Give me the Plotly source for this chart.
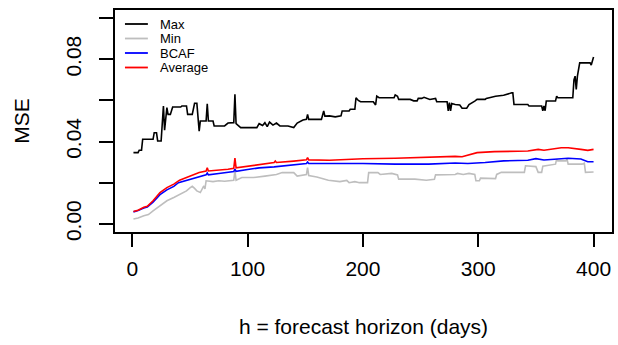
import plotly.graph_objects as go

# ---- data (day, MSE) ----
max_days = [1, 5, 6, 8, 9, 18, 19, 21, 22, 25, 27, 28, 30, 31, 33, 34, 35, 42, 43, 47, 48, 52, 54, 56, 58, 59, 64, 65, 66, 70, 71, 80, 83, 88, 89, 90, 94, 108, 110, 113, 115, 117, 119, 122, 125, 128, 135, 140, 143, 148, 151, 152, 153, 164, 166, 167, 171, 176, 181, 182, 188, 189, 193, 194, 196, 198, 209, 211, 212, 214, 227, 228, 230, 231, 241, 244, 247, 248, 251, 253, 258, 263, 264, 273, 274, 275, 276, 277, 280, 284, 286, 290, 292, 297, 299, 306, 307, 315, 322, 329, 330, 331, 343, 344, 355, 356, 357, 358, 359, 367, 368, 369, 382, 383, 384, 385, 386, 388, 397, 398, 400]
max_vals = [0.0346, 0.0346, 0.0358, 0.0358, 0.0411, 0.0411, 0.0443, 0.0443, 0.0403, 0.0403, 0.0573, 0.0455, 0.0565, 0.0532, 0.0532, 0.0549, 0.0568, 0.0568, 0.0573, 0.0573, 0.0532, 0.0532, 0.0586, 0.0586, 0.0451, 0.0500, 0.0500, 0.0584, 0.0500, 0.0500, 0.0476, 0.0476, 0.0490, 0.0492, 0.0630, 0.0487, 0.0468, 0.0468, 0.0487, 0.0478, 0.0492, 0.0473, 0.0495, 0.0480, 0.0490, 0.0476, 0.0476, 0.0468, 0.0490, 0.0505, 0.0508, 0.0532, 0.0508, 0.0508, 0.0549, 0.0524, 0.0525, 0.0520, 0.0525, 0.0549, 0.0549, 0.0557, 0.0557, 0.0613, 0.0600, 0.0594, 0.0594, 0.0578, 0.0621, 0.0613, 0.0613, 0.0627, 0.0620, 0.0605, 0.0605, 0.0598, 0.0598, 0.0610, 0.0610, 0.0615, 0.0605, 0.0610, 0.0594, 0.0594, 0.0549, 0.0590, 0.0549, 0.0585, 0.0580, 0.0578, 0.0562, 0.0562, 0.0580, 0.0597, 0.0605, 0.0605, 0.0610, 0.0620, 0.0625, 0.0637, 0.0637, 0.0581, 0.0580, 0.0573, 0.0573, 0.0550, 0.0573, 0.0550, 0.0597, 0.0597, 0.0621, 0.0613, 0.0613, 0.0700, 0.0718, 0.0654, 0.0718, 0.0783, 0.0783, 0.0772, 0.0811]

min_days = [1, 5, 10, 14, 18, 24, 30, 36, 41, 47, 50, 52, 54, 56, 59, 62, 63, 64, 70, 75, 80, 88, 89, 90, 95, 105, 115, 125, 130, 140, 143, 148, 151, 152, 153, 160, 170, 180, 186, 188, 193, 197, 204, 205, 213, 215, 225, 230, 231, 245, 255, 262, 263, 280, 282, 287, 292, 297, 298, 301, 302, 315, 316, 320, 340, 341, 350, 352, 355, 356, 367, 368, 369, 376, 377, 378, 390, 392, 393, 400]
min_vals = [0.0023, 0.0028, 0.0039, 0.0045, 0.0063, 0.0087, 0.0112, 0.0128, 0.0144, 0.0160, 0.0175, 0.0182, 0.0172, 0.0160, 0.0152, 0.0184, 0.0170, 0.0209, 0.0205, 0.0209, 0.0207, 0.0212, 0.0257, 0.0212, 0.0225, 0.0225, 0.0232, 0.0240, 0.0249, 0.0249, 0.0232, 0.0236, 0.0240, 0.0273, 0.0235, 0.0228, 0.0212, 0.0205, 0.0211, 0.0200, 0.0205, 0.0200, 0.0200, 0.0249, 0.0249, 0.0240, 0.0245, 0.0238, 0.0217, 0.0217, 0.0212, 0.0217, 0.0238, 0.0240, 0.0245, 0.0240, 0.0245, 0.0240, 0.0209, 0.0209, 0.0222, 0.0220, 0.0240, 0.0250, 0.0250, 0.0282, 0.0278, 0.0250, 0.0250, 0.0280, 0.0290, 0.0314, 0.0306, 0.0306, 0.0314, 0.0290, 0.0290, 0.0295, 0.0250, 0.0252]

bcaf_days = [1, 5, 10, 13, 18, 20, 24, 30, 36, 40, 47, 53, 58, 64, 65, 66, 75, 83, 88, 89, 90, 100, 110, 123, 140, 151, 152, 153, 171, 186, 200, 228, 257, 280, 291, 306, 322, 343, 350, 357, 372, 378, 389, 395, 400]
bcaf_vals = [0.0058, 0.0064, 0.0077, 0.0082, 0.0105, 0.0117, 0.0142, 0.0165, 0.0182, 0.0200, 0.0211, 0.0224, 0.0232, 0.0238, 0.0247, 0.0238, 0.0245, 0.0250, 0.0254, 0.0266, 0.0255, 0.0264, 0.0272, 0.0277, 0.0285, 0.0293, 0.0300, 0.0293, 0.0293, 0.0294, 0.0293, 0.0290, 0.0290, 0.0296, 0.0293, 0.0298, 0.0306, 0.0309, 0.0317, 0.0310, 0.0317, 0.0319, 0.0315, 0.0302, 0.0302]

avg_days = [1, 5, 10, 13, 18, 20, 24, 30, 36, 41, 47, 53, 58, 64, 65, 66, 75, 83, 88, 89, 90, 100, 110, 123, 124, 125, 140, 151, 152, 153, 171, 186, 200, 228, 257, 280, 286, 291, 299, 314, 330, 343, 352, 357, 372, 378, 389, 395, 400]
avg_vals = [0.0060, 0.0066, 0.0080, 0.0085, 0.0112, 0.0125, 0.0152, 0.0176, 0.0193, 0.0212, 0.0225, 0.0241, 0.0249, 0.0257, 0.0272, 0.0257, 0.0260, 0.0265, 0.0270, 0.0319, 0.0272, 0.0280, 0.0290, 0.0298, 0.0305, 0.0298, 0.0305, 0.0311, 0.0322, 0.0311, 0.0309, 0.0313, 0.0316, 0.0319, 0.0325, 0.0328, 0.0326, 0.0333, 0.0346, 0.0351, 0.0353, 0.0354, 0.0362, 0.0358, 0.0370, 0.0370, 0.0362, 0.0357, 0.0362]

series_names = ["Max", "Min", "BCAF", "Average"]
series_colors = ["#000000", "#BEBEBE", "#0000FF", "#FF0000"]

x_ticks = [0, 100, 200, 300, 400]
y_ticks = [0.0, 0.02, 0.04, 0.06, 0.08, 0.10]
y_ticktext = ["0.00", "", "0.04", "", "0.08", ""]

FONT = "Liberation Sans, Arial, sans-serif"

fig = go.Figure()
all_x = [max_days, min_days, bcaf_days, avg_days]
all_y = [max_vals, min_vals, bcaf_vals, avg_vals]
for name, xs, ys, col in zip(series_names, all_x, all_y, series_colors):
    fig.add_trace(go.Scatter(x=xs, y=ys, mode="lines", name=name,
                             line=dict(color=col, width=1.6), showlegend=False))

# R-style legend (no box) in the top-left corner of the plot region
L, R, T, B = 115, 614, 10, 232
W, H = R - L, B - T
shapes, annots = [], []
row_y = [24, 38.5, 53, 67.5]
for name, col, py in zip(series_names, series_colors, row_y):
    yp = (B - py) / H
    shapes.append(dict(type="line", xref="paper", yref="paper",
                       x0=(125 - L) / W, x1=(148 - L) / W, y0=yp, y1=yp,
                       line=dict(color=col, width=1.8)))
    annots.append(dict(xref="paper", yref="paper", x=(158 - L) / W, y=yp,
                       xanchor="left", yanchor="middle", showarrow=False,
                       text=name, font=dict(size=13, family=FONT, color="black")))

fig.update_layout(
    width=618, height=345,
    margin=dict(l=L, r=618 - R, t=T, b=345 - B),
    paper_bgcolor="white", plot_bgcolor="white",
    font=dict(family=FONT, color="black", size=21),
    showlegend=False,
    shapes=shapes, annotations=annots,
    xaxis=dict(range=[-15, 416], tickvals=x_ticks, ticks="outside", ticklen=13,
               tickwidth=1.5, tickcolor="black", showline=True, mirror=True,
               linecolor="black", linewidth=1.5, showgrid=False, zeroline=False,
               tickfont=dict(size=21), ticklabelstandoff=4,
               title=dict(text="h = forecast horizon (days)", font=dict(size=21), standoff=40)),
    yaxis=dict(range=[-0.004, 0.104], tickvals=y_ticks, ticktext=y_ticktext,
               tickangle=-90, ticks="outside", ticklen=14, tickwidth=1.5,
               tickcolor="black", showline=True, mirror=True, linecolor="black",
               linewidth=1.5, showgrid=False, zeroline=False,
               tickfont=dict(size=21), ticklabelstandoff=10,
               title=dict(text="MSE", font=dict(size=21), standoff=26)),
)

fig.write_html("out.html")
